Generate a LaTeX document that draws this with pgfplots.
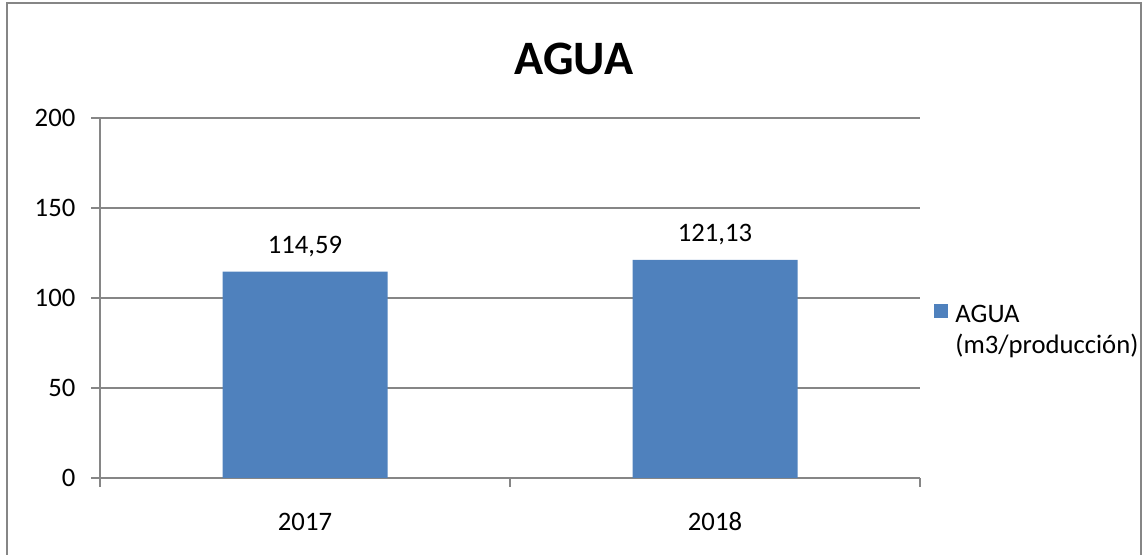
\documentclass[border=0pt]{standalone}
\usepackage{fontspec}
\setmainfont{Carlito}
\usepackage{pgfplots}
\pgfplotsset{compat=1.18}
\definecolor{barblue}{HTML}{4F81BD}
\definecolor{linegray}{HTML}{868686}
\begin{document}
\begin{tikzpicture}[x=0.75pt,y=0.75pt]
  \useasboundingbox (0,0) rectangle (1147,554);
  \draw[linegray, line width=1.5pt] (7,-3) rectangle (1140.5,551);
  \node[font=\bfseries\fontsize{36}{42}\selectfont, anchor=base] at (574,479) {AGUA};
  \begin{axis}[
      at={(75pt,57pt)}, anchor=south west,
      scale only axis, width=615pt, height=270pt,
      xmin=-0.5, xmax=1.5, ymin=0, ymax=200,
      ytick={0,50,...,200},
      xtick={-0.5,0.5,1.5}, xticklabels={},
      extra x ticks={0,1}, extra x tick labels={2017,2018},
      extra x tick style={major tick length=0pt},
      axis x line*=bottom, axis y line*=left,
      axis line style={linegray, line width=1pt, -},
      tick align=outside, major tick length=6.5pt,
      tick style={linegray, line width=1pt},
      ymajorgrids, grid style={linegray, line width=1pt},
      ticklabel style={font=\fontsize{20}{24}\selectfont},
      xticklabel style={yshift=-22.5pt},
      yticklabel style={xshift=-8.5pt},
      /pgf/number format/assume math mode=true,
      ybar, bar width=123.75pt,
      nodes near coords={\pgfmathprintnumber[fixed,fixed zerofill,precision=2,use comma,assume math mode=true]{\pgfplotspointmeta}},
      every node near coord/.append style={font=\fontsize{20}{24}\selectfont, text=black, yshift=7.5pt},
      legend style={draw=none, fill=none, at={(rel axis cs:1.012,0.41)}, anchor=west,
        column sep=3.5pt,
        nodes={align=left, font=\fontsize{20}{23}\selectfont}},
      legend cell align=left,
      legend image code/.code={%
        \fill[barblue] (0pt,9.5pt) rectangle (10.5pt,20pt);
        \path (0pt,-20pt);},
    ]
    \addplot[fill=barblue, draw=none] coordinates {(0,114.59) (1,121.13)};
    \legend{AGUA\\(m3/producción)}
  \end{axis}
\end{tikzpicture}
\end{document}
